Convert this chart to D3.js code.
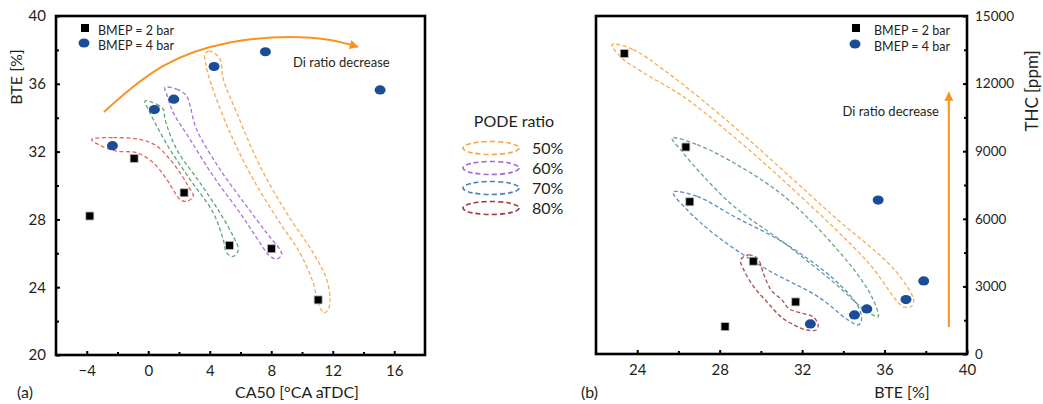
<!DOCTYPE html>
<html><head><meta charset="utf-8">
<script src="https://cdn.jsdelivr.net/npm/d3@7"></script>
<style>
body{margin:0;background:#fff}
svg{display:block}
text{font-family:Lato,"Open Sans",sans-serif;fill:#231f20}
</style>
</head><body>
<svg id="c" width="1043" height="404"></svg>
<script>
// ---------- Data: panel (a) BTE vs CA50 ----------
const ca50_2bar = [-3.8, -0.92, 2.33, 5.28, 8.01, 11.05];
const bteA_2bar = [28.2, 31.6, 29.57, 26.47, 26.27, 23.25];
const ca50_4bar = [-2.33, 0.4, 1.66, 4.28, 7.62, 15.08];
const bteA_4bar = [32.35, 34.48, 35.09, 37.02, 37.89, 35.64];

// ---------- Data: panel (b) THC vs BTE ----------
const bteB_2bar = [23.37, 26.36, 26.55, 29.63, 31.69, 28.26];
const thc_2bar  = [13333, 9185, 6755, 4119, 2311, 1215];
const bteB_4bar = [32.4, 34.54, 35.14, 37.04, 37.9, 35.69];
const thc_4bar  = [1333, 1733, 2000, 2415, 3244, 6830];

// ---------- Ticks ----------
const xTicksA = [-4, 0, 4, 8, 12, 16];
const xMinorA = [-2, 2, 6, 10, 14];
const yTicksA = [20, 24, 28, 32, 36, 40];
const yMinorA = [22, 26, 30, 34, 38];
const xTicksB = [24, 28, 32, 36, 40];
const xMinorB = [26, 30, 34, 38];
const yTicksB = [0, 3000, 6000, 9000, 12000, 15000];
const yMinorB = [1500, 4500, 7500, 10500, 13500];

// ---------- Legend ----------
const bmepLabels = ["BMEP = 2 bar", "BMEP = 4 bar"];
const podeLabels = ["50%", "60%", "70%", "80%"];
const podeColors = ["#f7a244", "#a064dc", "#4a7ec2", "#a23a3c"];

// ---------- Group outlines (data units) ----------
const outlineA_50 = [[3.69,37.75],[3.95,37.93],[4.28,37.81],[4.67,37.46],[4.88,36.27],[5.75,34.30],[7.27,31.14],[9.00,28.38],[10.73,26.02],[11.61,24.44],[11.82,23.25],[11.69,22.66],[11.43,22.49],[11.06,23.06],[10.73,24.24],[9.87,26.02],[8.57,27.79],[6.83,30.36],[5.32,33.12],[4.13,35.88],[3.74,37.16]];
const outlineA_60 = [[1.09,35.78],[1.85,35.68],[2.50,35.28],[2.72,34.69],[3.15,33.31],[4.67,30.95],[6.40,28.78],[7.70,27.20],[8.57,26.21],[8.68,25.92],[8.35,25.66],[7.81,25.92],[7.27,26.61],[5.97,28.38],[4.23,30.55],[2.72,32.72],[1.63,34.30],[1.24,35.28]];
const outlineA_70 = [[-0.21,34.99],[0.55,34.79],[0.98,34.50],[1.09,33.91],[1.85,32.13],[3.37,30.16],[4.67,28.38],[5.53,27.00],[5.86,26.21],[5.53,25.82],[5.10,26.02],[4.88,26.80],[4.23,28.38],[2.72,30.36],[1.41,32.13],[0.55,33.51],[0.00,34.50]];
const outlineA_80 = [[-3.68,32.72],[-2.27,32.82],[-0.54,32.72],[0.55,32.33],[1.41,31.54],[2.07,30.75],[2.60,29.96],[2.93,29.37],[2.50,29.07],[2.07,29.17],[1.74,29.57],[1.20,30.36],[0.33,31.34],[-0.75,31.93],[-2.05,32.03],[-3.14,32.37]];

const outlineB_50 = [[22.78,13733],[23.80,13511],[25.46,12489],[27.90,10711],[30.34,8756],[33.56,6089],[36.49,3733],[37.41,2400],[37.32,2133],[36.93,2089],[35.22,4044],[31.95,6978],[28.68,9644],[26.24,11422],[24.29,12489],[23.17,13200]];
const outlineB_70g = [[25.69,9587],[26.91,9289],[28.70,8476],[31.14,6991],[33.58,4769],[35.20,2844],[35.69,1809],[35.69,1658],[35.04,1956],[33.58,3142],[31.14,4920],[28.70,6547],[27.07,8031],[26.10,9067]];
const outlineB_70b = [[25.74,7187],[26.91,6991],[28.70,6102],[31.14,4920],[33.58,3289],[34.72,2102],[34.88,1511],[34.73,1289],[34.23,1511],[32.77,2547],[30.33,3733],[27.89,5213],[26.42,6400]];
const outlineB_80 = [[29.02,4178],[29.41,4400],[29.85,4222],[30.15,3511],[30.49,2844],[31.02,2400],[31.37,2000],[31.95,1822],[32.54,1644],[32.78,1289],[32.68,1067],[32.20,1067],[31.61,1289],[30.98,1644],[30.34,2267],[29.66,2978],[29.17,3733]];

// ---------- Annotation arrows (data units) ----------
const arrowA = [[-2.88,34.34],[0.98,37.06],[5.32,38.44],[9.22,38.76],[11.82,38.58],[13.64,38.18]];
const arrowB = [[39.12,1200],[39.12,11600]];

// ---------- Drawing ----------
const svg = d3.select("#c");
const xA = d3.scaleLinear().domain([-6,18]).range([56,425]);
const yA = d3.scaleLinear().domain([20,40]).range([355,16]);
const xB = d3.scaleLinear().domain([22,40]).range([596,967]);
const yB = d3.scaleLinear().domain([0,15000]).range([354,16]);

const defs = svg.append("defs");
defs.append("marker").attr("id","ah").attr("viewBox","0 0 10 10").attr("refX",9).attr("refY",5)
  .attr("markerWidth",5).attr("markerHeight",4.5).attr("orient","auto").attr("markerUnits","strokeWidth")
  .append("path").attr("d","M0,0L10,5L0,10z").attr("fill","#f7931e");

function styleAxis(g, fs){
  g.select(".domain").remove();
  g.selectAll(".tick line").attr("stroke","#000").attr("stroke-width",2);
  g.selectAll(".tick text").style("font-size",fs+"px").attr("fill","#231f20");
}

function panelAxes(x, y, xT, xM, yT, yM, yRight, yFs){
  const [x0,x1] = x.range(), [y0,y1] = y.range();
  const gx = svg.append("g").attr("transform",`translate(0,${y0})`)
    .call(d3.axisBottom(x).tickValues(xT).tickSize(-4).tickPadding(10).tickFormat(d=>d<0?"\u2212"+Math.abs(d):d));
  styleAxis(gx,15);
  const gxm = svg.append("g").attr("transform",`translate(0,${y0})`)
    .call(d3.axisBottom(x).tickValues(xM).tickSize(-3).tickFormat(""));
  styleAxis(gxm,15);
  if(!yRight){
    const gy = svg.append("g").attr("transform",`translate(${x0},0)`)
      .call(d3.axisLeft(y).tickValues(yT).tickSize(-4).tickPadding(10).tickFormat(d3.format("d")));
    styleAxis(gy,yFs);
    const gym = svg.append("g").attr("transform",`translate(${x0},0)`)
      .call(d3.axisLeft(y).tickValues(yM).tickSize(-3).tickFormat(""));
    styleAxis(gym,yFs);
  } else {
    const gy = svg.append("g").attr("transform",`translate(${x1},0)`)
      .call(d3.axisRight(y).tickValues(yT).tickSize(-4).tickPadding(8).tickFormat(d3.format("d")));
    styleAxis(gy,yFs);
    const gym = svg.append("g").attr("transform",`translate(${x1},0)`)
      .call(d3.axisRight(y).tickValues(yM).tickSize(-3).tickFormat(""));
    styleAxis(gym,yFs);
  }
  svg.append("rect").attr("x",x0).attr("y",y1).attr("width",x1-x0).attr("height",y0-y1)
    .attr("fill","none").attr("stroke","#000").attr("stroke-width",2.6);
}

function outline(x, y, pts, color){
  const line = d3.line().x(d=>x(d[0])).y(d=>y(d[1])).curve(d3.curveCatmullRomClosed.alpha(0.5));
  svg.append("path").attr("d",line(pts)).attr("fill","none").attr("stroke",color)
    .attr("stroke-width",1.3).attr("stroke-dasharray","4,2.5").attr("opacity",0.9);
}

function points(x, y, xs, ys, kind){
  const g = svg.append("g");
  xs.forEach((v,i)=>{
    if(kind==="sq"){
      g.append("rect").attr("x",x(v)-4).attr("y",y(ys[i])-4).attr("width",8).attr("height",8)
        .attr("fill","#000").attr("stroke","#bbb").attr("stroke-width",0.8);
    } else {
      g.append("ellipse").attr("cx",x(v)).attr("cy",y(ys[i])).attr("rx",5.5).attr("ry",4.6)
        .attr("fill","#1a4d98");
    }
  });
}

function bmepLegend(sx, ty, tx){
  svg.append("rect").attr("x",sx-4).attr("y",ty[0]-7).attr("width",8).attr("height",8).attr("fill","#000");
  svg.append("ellipse").attr("cx",sx-1).attr("cy",ty[1]-3).attr("rx",5.5).attr("ry",4.6).attr("fill","#1a4d98");
  bmepLabels.forEach((t,i)=>svg.append("text").attr("x",tx).attr("y",ty[i]+4).style("font-size","12.5px").text(t));
}

// Panel (a)
panelAxes(xA, yA, xTicksA, xMinorA, yTicksA, yMinorA, false, 15);
outline(xA, yA, outlineA_50, "#f7a244");
outline(xA, yA, outlineA_60, "#a064dc");
outline(xA, yA, outlineA_70, "#4c9a6c");
outline(xA, yA, outlineA_80, "#d9534f");
svg.append("path").attr("d", d3.line().x(d=>xA(d[0])).y(d=>yA(d[1])).curve(d3.curveNatural)(arrowA))
  .attr("fill","none").attr("stroke","#f7931e").attr("stroke-width",2).attr("marker-end","url(#ah)");
points(xA, yA, ca50_2bar, bteA_2bar, "sq");
points(xA, yA, ca50_4bar, bteA_4bar, "ci");
bmepLegend(85, [31, 46], 98);
svg.append("text").attr("x",xA(9.42)).attr("y",yA(37.0)).style("font-size","13px").text("Di ratio decrease");
svg.append("text").attr("x",297).attr("y",398).attr("text-anchor","middle").style("font-size","16px").text("CA50 [\u00B0CA aTDC]");
svg.append("text").attr("x",17).attr("y",398).style("font-size","16px").text("(a)");
svg.append("text").attr("transform",`translate(22,77) rotate(-90)`).attr("text-anchor","middle").style("font-size","16px").text("BTE [%]");

// Panel (b)
panelAxes(xB, yB, xTicksB, xMinorB, yTicksB, yMinorB, true, 13.5);
outline(xB, yB, outlineB_50, "#f7a244");
outline(xB, yB, outlineB_70g, "#5a9a78");
outline(xB, yB, outlineB_70b, "#4a7ec2");
outline(xB, yB, outlineB_80, "#a23a3c");
svg.append("line").attr("x1",xB(arrowB[0][0])).attr("y1",yB(arrowB[0][1])).attr("x2",xB(arrowB[1][0])).attr("y2",yB(arrowB[1][1]))
  .attr("stroke","#f7931e").attr("stroke-width",2).attr("marker-end","url(#ah)");
points(xB, yB, bteB_2bar, thc_2bar, "sq");
points(xB, yB, bteB_4bar, thc_4bar, "ci");
bmepLegend(856, [31, 47], 874);
svg.append("text").attr("x",939).attr("y",116).attr("text-anchor","end").style("font-size","13px").text("Di ratio decrease");
svg.append("text").attr("x",902).attr("y",398).attr("text-anchor","middle").style("font-size","16px").text("BTE [%]");
svg.append("text").attr("x",581).attr("y",398).style("font-size","16px").text("(b)");
svg.append("text").attr("transform",`translate(1038,91) rotate(-90)`).attr("text-anchor","middle").style("font-size","17px").text("THC [ppm]");

// Center legend: PODE ratio
svg.append("text").attr("x",514).attr("y",127).attr("text-anchor","middle").style("font-size","16px").text("PODE ratio");
podeLabels.forEach((t,i)=>{
  const cy = 148 + i*20;
  svg.append("ellipse").attr("cx",491).attr("cy",cy).attr("rx",28).attr("ry",6.5)
    .attr("fill","none").attr("stroke",podeColors[i]).attr("stroke-width",1.6).attr("stroke-dasharray","5,3");
  svg.append("text").attr("x",532).attr("y",cy+6).style("font-size","16px").text(t);
});
</script>
</body></html>
